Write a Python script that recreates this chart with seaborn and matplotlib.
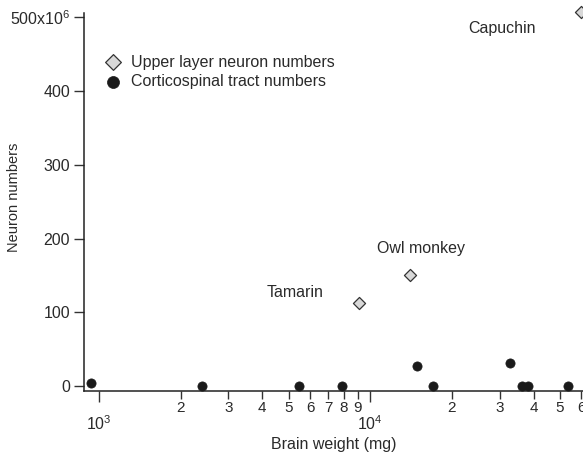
import math
import matplotlib
matplotlib.use("Agg")
import matplotlib.pyplot as plt
import matplotlib.ticker as mticker
import seaborn as sns
import pandas as pd

sns.set_theme(style="ticks")
plt.rcParams['font.family'] = ['Liberation Sans', 'DejaVu Sans']
plt.rcParams['mathtext.fontset'] = 'custom'
plt.rcParams['mathtext.rm'] = 'Liberation Sans'
plt.rcParams['mathtext.it'] = 'Liberation Sans'

# Upper layer neuron numbers (diamonds)
upper_species = ["Tamarin", "Owl monkey", "Capuchin"]
upper_weight = [9060, 14050, 59900]
upper_neurons = [113, 150, 507]

# Corticospinal tract numbers (circles)
cst_weight = [932, 2390, 5480, 7880, 14870, 17020, 32700, 36300, 38200, 53500]
cst_neurons = [4, 0, 0, 0, 27.5, 0, 30.7, 0, 0, 0]

yticks = [0, 100, 200, 300, 400, 500]
ytick_labels = ["0", "100", "200", "300", "400", "500x10$^6$"]
xmajor = [1000, 10000]
xminor = [2000, 3000, 4000, 5000, 6000, 7000, 8000, 9000,
          20000, 30000, 40000, 50000, 60000]

text_c = "#2a2a2a"
mark_c = "#1a1a1a"
FS = 11.5

df_up = pd.DataFrame({"w": upper_weight, "n": upper_neurons, "s": upper_species})
df_cst = pd.DataFrame({"w": cst_weight, "n": cst_neurons})

fig = plt.figure(figsize=(5.83, 4.57), dpi=100)
ax = fig.add_axes([84/583, 1-391/457, (583-84)/583 + 0.002, (391-13)/457])

sns.scatterplot(data=df_up, x="w", y="n", marker="D", s=38, color="#d8d8d8",
                edgecolor="#333333", linewidth=0.9, ax=ax, clip_on=False, zorder=3,
                label="Upper layer neuron numbers")
sns.scatterplot(data=df_cst, x="w", y="n", marker="o", s=44, color=mark_c,
                edgecolor=mark_c, linewidth=0.5, ax=ax, clip_on=False, zorder=3,
                label="Corticospinal tract numbers")

ax.set_xscale("log")
ax.set_xlim(880, 61500)
ax.set_ylim(-6.8, 505.8)

ax.set_yticks(yticks)
ax.set_yticklabels(ytick_labels)

ax.xaxis.set_major_locator(mticker.FixedLocator(xmajor))
ax.xaxis.set_major_formatter(mticker.FuncFormatter(lambda v, p: "$10^{%d}$" % round(math.log10(v))))
ax.xaxis.set_minor_locator(mticker.FixedLocator(xminor))
def minor_fmt(v, p):
    e = math.floor(math.log10(v) + 1e-9)
    return str(round(v / 10**e))
ax.xaxis.set_minor_formatter(mticker.FuncFormatter(minor_fmt))

ax.tick_params(axis="y", which="major", length=7, width=1, color="#333333",
               labelsize=FS, labelcolor=text_c, pad=3)
ax.tick_params(axis="x", which="major", length=8, width=1, color="#333333",
               labelsize=FS, labelcolor=text_c, pad=9)
ax.tick_params(axis="x", which="minor", length=6, width=1, color="#333333",
               labelsize=11, labelcolor=text_c, pad=1.5)

for side in ["top", "right"]:
    ax.spines[side].set_visible(False)
for side in ["left", "bottom"]:
    ax.spines[side].set_color("#222222")
    ax.spines[side].set_linewidth(1.1)

ax.set_xlabel("Brain weight (mg)", fontsize=FS, color=text_c)
ax.xaxis.set_label_coords((333-84)/499, -(445-391)/378)
ax.xaxis.label.set_va("center")
ax.set_ylabel("Neuron numbers", fontsize=10.5, color=text_c)
ax.yaxis.set_label_coords(-(84-14)/499, (391-197)/378)
ax.yaxis.label.set_va("center")

offsets = {"Tamarin": (-46, 7), "Owl monkey": (8, 19), "Capuchin": (-57, -12)}
for sp, w, n in zip(upper_species, upper_weight, upper_neurons):
    dx, dy = offsets[sp]
    ax.annotate(sp, (w, n), xytext=(dx, dy), textcoords="offset points",
                ha="center", va="center", fontsize=FS, color=text_c, annotation_clip=False)

leg = ax.legend(loc="upper left", bbox_to_anchor=(0.013, 0.907), frameon=False,
                fontsize=FS, handletextpad=0.15, labelspacing=0.3, markerscale=1.3,
                borderaxespad=0)
for t in leg.get_texts():
    t.set_color(text_c)

fig.savefig("out.png", dpi=100)
